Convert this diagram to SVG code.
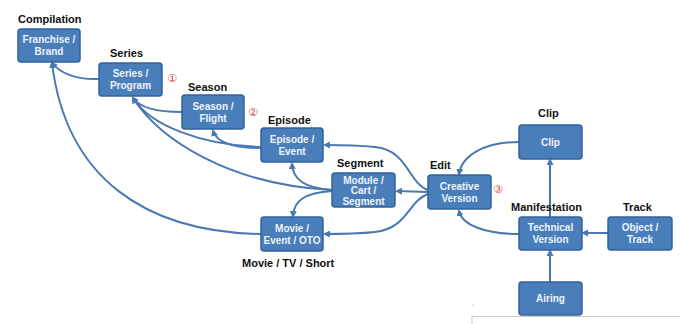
<svg xmlns="http://www.w3.org/2000/svg" width="680" height="324" viewBox="0 0 680 324">
<style>
.node rect{fill:#4a7ebb;stroke:#30639c;stroke-width:1.5}
.node text{font-family:"Liberation Sans",Arial,sans-serif;font-weight:bold;font-size:10px;fill:#eef3fa;text-anchor:middle}
.lbl{font-family:"Liberation Sans",Arial,sans-serif;font-weight:bold;font-size:11px;fill:#111}
.num{font-family:"DejaVu Sans",sans-serif;font-size:11px;fill:#d9473f;text-anchor:middle}
#edges path{fill:none;stroke:#4a78b2;stroke-width:2;marker-end:url(#ah)}
</style>
<defs>
<marker id="ah" markerUnits="userSpaceOnUse" markerWidth="7" markerHeight="7" refX="5" refY="3.5" orient="auto">
<path d="M0,0 L7,3.5 L0,7 z" fill="#4a78b2"/>
</marker>
</defs>
<rect width="680" height="324" fill="#fff"/>

<g id="edges">
<path d="M99,79 C76,80 60,73 52,63"/>
<path d="M261,234 C145,232 66,178 52,63"/>
<path d="M182,112 C160,112 140,108 133,98"/>
<path d="M261,147 C200,145 150,125 133,98"/>
<path d="M332,190 C230,185 160,140 133,98"/>
<path d="M261,148 C235,148 217,143 213,131"/>
<path d="M332,190 C305,188 293,180 292,164"/>
<path d="M332,191 C305,193 294,200 293,216"/>
<path d="M428,190 C408,183 408,150 375,147 C355,145 340,145 325,145"/>
<path d="M428,192 L397,191"/>
<path d="M428,194 C408,201 408,228 375,232 C355,234 340,234 325,234"/>
<path d="M519,142 C485,142 462,155 459,174"/>
<path d="M519,234 C485,234 462,225 459,211"/>
<path d="M550,217 L550,160"/>
<path d="M608,233 L583,233"/>
<path d="M550,282 L550,251"/>
</g>

<g id="franchise" class="node"><rect x="18" y="29" width="62" height="33" rx="3"/><text x="49" y="43">Franchise /</text><text x="49" y="55">Brand</text></g>
<g id="series" class="node"><rect x="99" y="63" width="63" height="33" rx="3"/><text x="130.5" y="77">Series /</text><text x="130.5" y="89">Program</text></g>
<g id="season" class="node"><rect x="182" y="95" width="62" height="34" rx="3"/><text x="213" y="109.5">Season /</text><text x="213" y="121.5">Flight</text></g>
<g id="episode" class="node"><rect x="261" y="128" width="62" height="34" rx="3"/><text x="292" y="142.5">Episode /</text><text x="292" y="154.5">Event</text></g>
<g id="segment" class="node"><rect x="332" y="173" width="63" height="34" rx="3"/><text x="363.5" y="183.5">Module /</text><text x="363.5" y="194">Cart /</text><text x="363.5" y="204.5">Segment</text></g>
<g id="movie" class="node"><rect x="261" y="217" width="62" height="34" rx="3"/><text x="292" y="231.5">Movie /</text><text x="292" y="243.5">Event / OTO</text></g>
<g id="creative" class="node"><rect x="428" y="175" width="63" height="34" rx="3"/><text x="459.5" y="189.5">Creative</text><text x="459.5" y="201.5">Version</text></g>
<g id="clip" class="node"><rect x="519" y="125" width="63" height="34" rx="3"/><text x="550.5" y="145.5">Clip</text></g>
<g id="technical" class="node"><rect x="519" y="217" width="63" height="33" rx="3"/><text x="550.5" y="231">Technical</text><text x="550.5" y="243">Version</text></g>
<g id="object" class="node"><rect x="608" y="217" width="64" height="33" rx="3"/><text x="640" y="231">Object /</text><text x="640" y="243">Track</text></g>
<g id="airing" class="node"><rect x="519" y="282" width="63" height="33" rx="3"/><text x="550.5" y="302">Airing</text></g>

<g id="labels">
<text class="lbl" x="18" y="23">Compilation</text>
<text class="lbl" x="110" y="57">Series</text>
<text class="lbl" x="188" y="91">Season</text>
<text class="lbl" x="268" y="124">Episode</text>
<text class="lbl" x="337" y="167">Segment</text>
<text class="lbl" x="430" y="169">Edit</text>
<text class="lbl" x="538" y="117">Clip</text>
<text class="lbl" x="511" y="211">Manifestation</text>
<text class="lbl" x="623" y="211">Track</text>
<text class="lbl" x="242" y="267">Movie / TV / Short</text>
<text class="num" x="172" y="82">①</text>
<text class="num" x="253" y="116">②</text>
<text class="num" x="498" y="193">③</text>
</g>

<g id="artifacts" fill="none" stroke="#bbb" stroke-width="0.8">
<path d="M472,316.5 L680,316.5 M472,316 L472,324"/>
<circle cx="473" cy="305" r="0.6" fill="#888" stroke="none"/>
</g>
</svg>
